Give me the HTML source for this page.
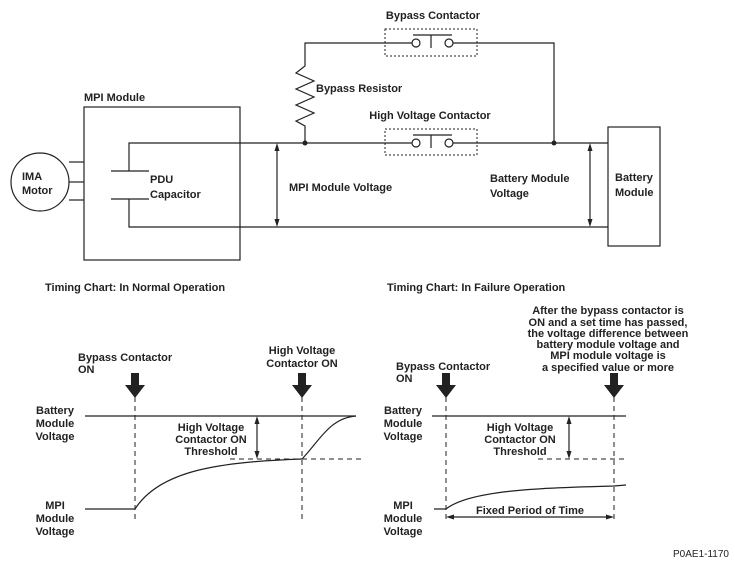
<!DOCTYPE html>
<html><head><meta charset="utf-8"><style>
html,body{margin:0;padding:0;background:#fff;overflow:hidden;}
svg text{font-family:"Liberation Sans",Arial,sans-serif;font-size:11px;font-weight:bold;fill:#222;}
</style></head><body>
<svg width="735" height="567" viewBox="0 0 735 567" xmlns="http://www.w3.org/2000/svg">
<defs>
<marker id="ah" markerWidth="8" markerHeight="8" refX="4" refY="4" orient="auto-start-reverse" markerUnits="userSpaceOnUse">
<path d="M0,1.5 L8,4 L0,6.5 Z" fill="#222"/></marker>
</defs>
<g stroke="#222" stroke-width="1.2" fill="none">
<rect x="84" y="107" width="156" height="153"/>
<circle cx="40" cy="182" r="29"/>
<line x1="69" y1="162" x2="84" y2="162"/><line x1="69" y1="182" x2="84" y2="182"/><line x1="69" y1="200" x2="84" y2="200"/>
<line x1="111" y1="171" x2="149" y2="171"/><line x1="111" y1="199" x2="149" y2="199"/>
<polyline points="129,171 129,143 412,143"/><line x1="453" y1="143" x2="608" y2="143"/>
<polyline points="129,199 129,227 608,227"/>
<rect x="608" y="127" width="52" height="119"/>
<polyline points="305,143 305,126 296,121 314,113 296,105 314,97 296,89 314,81 296,73 305,66 305,43 412,43"/>
<polyline points="453,43 554,43 554,143"/>
<circle cx="416" cy="43" r="4"/><circle cx="449" cy="43" r="4"/>
<line x1="413" y1="35" x2="452" y2="35"/><line x1="431" y1="35" x2="431" y2="48"/>
<circle cx="416" cy="143" r="4"/><circle cx="449" cy="143" r="4"/>
<line x1="413" y1="135" x2="452" y2="135"/><line x1="431" y1="135" x2="431" y2="148"/>
<line x1="277" y1="147" x2="277" y2="223" marker-start="url(#ah)" marker-end="url(#ah)"/>
<line x1="590" y1="147" x2="590" y2="223" marker-start="url(#ah)" marker-end="url(#ah)"/>
<g stroke-dasharray="2,2" stroke-width="1">
<rect x="385" y="29" width="92" height="27"/><rect x="385" y="129" width="92" height="26"/>
</g>
</g>
<circle cx="305" cy="143" r="2.5" fill="#222"/><circle cx="554" cy="143" r="2.5" fill="#222"/>
<text x="433" y="19" text-anchor="middle">Bypass Contactor</text>
<text x="316" y="92">Bypass Resistor</text>
<text x="430" y="119" text-anchor="middle">High Voltage Contactor</text>
<text x="84" y="101">MPI Module</text>
<text x="22" y="180">IMA</text><text x="22" y="194">Motor</text>
<text x="150" y="183">PDU</text><text x="150" y="198">Capacitor</text>
<text x="289" y="191">MPI Module Voltage</text>
<text x="490" y="182">Battery Module</text><text x="490" y="197">Voltage</text>
<text x="615" y="181">Battery</text><text x="615" y="196">Module</text>
<text x="45" y="291">Timing Chart: In Normal Operation</text>
<text x="387" y="291">Timing Chart: In Failure Operation</text>
<g stroke="#222" stroke-width="1.2" fill="none">
<line x1="85" y1="416" x2="356" y2="416"/>
<polyline points="85,509 135,509"/>
<path d="M135,509 C160,470 220,462 302,459"/>
<path d="M302,459 C320,440 330,418 356,416"/>
<line x1="257" y1="420" x2="257" y2="455" marker-start="url(#ah)" marker-end="url(#ah)"/>
<g stroke-dasharray="5,4" stroke-width="1">
<line x1="230" y1="459" x2="361" y2="459"/>
<line x1="135" y1="397" x2="135" y2="520"/><line x1="302" y1="397" x2="302" y2="520"/>
</g>
<line x1="432" y1="416" x2="626" y2="416"/>
<path d="M434,509 L446,509 C470,490 540,488 614,486 L626,485"/>
<line x1="569" y1="420" x2="569" y2="455" marker-start="url(#ah)" marker-end="url(#ah)"/>
<line x1="450" y1="517" x2="610" y2="517" marker-start="url(#ah)" marker-end="url(#ah)"/>
<g stroke-dasharray="5,4" stroke-width="1">
<line x1="538" y1="459" x2="626" y2="459"/>
<line x1="446" y1="397" x2="446" y2="522"/><line x1="614" y1="397" x2="614" y2="522"/>
</g>
</g>
<g fill="#222">
<path d="M131,373 h8 v12 h6 l-10,13 l-10,-13 h6 z"/>
<path d="M298,373 h8 v12 h6 l-10,13 l-10,-13 h6 z"/>
<path d="M442,373 h8 v12 h6 l-10,13 l-10,-13 h6 z"/>
<path d="M610,373 h8 v12 h6 l-10,13 l-10,-13 h6 z"/>
</g>
<text x="78" y="361">Bypass Contactor</text><text x="78" y="373">ON</text>
<text x="302" y="354" text-anchor="middle">High Voltage</text><text x="302" y="367" text-anchor="middle">Contactor ON</text>
<g text-anchor="middle">
<text x="55" y="414">Battery</text><text x="55" y="427">Module</text><text x="55" y="440">Voltage</text>
<text x="211" y="431">High Voltage</text><text x="211" y="443">Contactor ON</text><text x="211" y="455">Threshold</text>
<text x="55" y="509">MPI</text><text x="55" y="522">Module</text><text x="55" y="535">Voltage</text>
<text x="403" y="414">Battery</text><text x="403" y="427">Module</text><text x="403" y="440">Voltage</text>
<text x="520" y="431">High Voltage</text><text x="520" y="443">Contactor ON</text><text x="520" y="455">Threshold</text>
<text x="403" y="509">MPI</text><text x="403" y="522">Module</text><text x="403" y="535">Voltage</text>
<text x="530" y="514">Fixed Period of Time</text>
<text x="608" y="314">After the bypass contactor is</text>
<text x="608" y="326">ON and a set time has passed,</text>
<text x="608" y="337">the voltage difference between</text>
<text x="608" y="348">battery module voltage and</text>
<text x="608" y="359">MPI module voltage is</text>
<text x="608" y="371">a specified value or more</text>
</g>
<text x="396" y="370">Bypass Contactor</text><text x="396" y="382">ON</text>
<text x="673" y="557" style="font-weight:normal;font-size:10px">P0AE1-1170</text>
</svg>
</body></html>
